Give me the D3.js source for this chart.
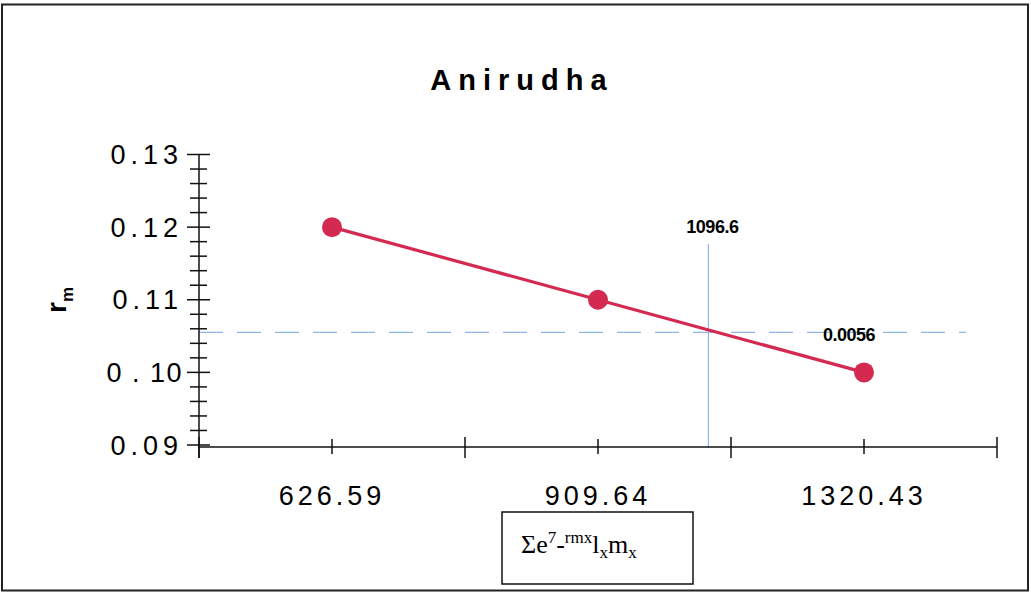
<!DOCTYPE html>
<html>
<head>
<meta charset="utf-8">
<script src="https://cdn.jsdelivr.net/npm/d3@7"></script>
<style>
	body { margin: 0; background: #fff; }
	svg { display: block; }
</style>
</head>
<body>
<svg id="chart" width="1031" height="593"></svg>
<script>
// data
var categories = ["626.59", "909.64", "1320.43"];
var rmValues = [0.12, 0.11, 0.10];
var yTickValues = [0.09, 0.10, 0.11, 0.12, 0.13];
var yTickLabels = ["0.09", "0 . 10", "0.11", "0.12", "0.13"];
// crossing of the line, x given as position in category units
var crossX = [1.415];
var crossY = [0.1055];
var crossLabels = ["1096.6", "0.0056"];

var svg = d3.select("#chart");
var lineColor = "#d42a52";
var guideColor = "#8fb8e8";

var plotLeft = 199, plotRight = 997, plotTop = 154.5, plotBottom = 445;

var x = d3.scaleBand()
	.domain(categories)
	.range([plotLeft, plotRight]);

// index scale for things that sit between categories
var xIdx = d3.scaleLinear()
	.domain([-0.5, categories.length - 0.5])
	.range([plotLeft, plotRight]);

var y = d3.scaleLinear()
	.domain([0.09, 0.13])
	.range([plotBottom, plotTop]);

// outer frame
svg.append("rect")
	.attr("x", 2).attr("y", 4.5)
	.attr("width", 1026).attr("height", 586)
	.attr("fill", "none")
	.attr("stroke", "#222")
	.attr("stroke-width", 2);

svg.append("text")
	.attr("x", 522).attr("y", 90)
	.attr("text-anchor", "middle")
	.style("font", "bold 29px 'Liberation Sans', Arial, sans-serif")
	.style("letter-spacing", "7px")
	.text("Anirudha");

// guide lines
svg.append("line")
	.attr("x1", plotLeft).attr("x2", 966)
	.attr("y1", y(crossY[0])).attr("y2", y(crossY[0]))
	.attr("stroke", guideColor)
	.attr("stroke-width", 1.2)
	.attr("stroke-dasharray", "24,14");

svg.append("line")
	.attr("x1", xIdx(crossX[0])).attr("x2", xIdx(crossX[0]))
	.attr("y1", 244).attr("y2", plotBottom + 2)
	.attr("stroke", guideColor)
	.attr("stroke-width", 1.2);

// y axis with minor ticks
var yAxis = svg.append("g").attr("class", "y-axis");
yAxis.append("line")
	.attr("x1", plotLeft).attr("x2", plotLeft)
	.attr("y1", plotTop).attr("y2", plotBottom + 13)
	.attr("stroke", "#111").attr("stroke-width", 1.5);

var minor = d3.range(0, 21).map(function(i) { return 0.09 + i * 0.002; });
yAxis.selectAll("line.tick")
	.data(minor)
	.enter()
	.append("line")
	.attr("class", "tick")
	.attr("x1", function(d, i) { return i % 5 === 0 ? plotLeft - 12 : plotLeft - 9; })
	.attr("x2", function(d, i) { return i % 5 === 0 ? plotLeft + 11 : plotLeft + 8; })
	.attr("y1", function(d) { return y(d); })
	.attr("y2", function(d) { return y(d); })
	.attr("stroke", "#111").attr("stroke-width", 1.5);

yAxis.selectAll("text")
	.data(yTickValues)
	.enter()
	.append("text")
	.attr("x", 183)
	.attr("y", function(d) { return y(d); })
	.attr("dy", "0.36em")
	.attr("text-anchor", "end")
	.style("font", "27px 'Liberation Sans', Arial, sans-serif")
	.style("letter-spacing", function(d, i) {
		// the spaced label is already wide
		return yTickLabels[i].indexOf(" ") > -1 ? "1.5px" : "5px";
	})
	.text(function(d, i) { return yTickLabels[i]; });

// x axis
var xAxis = svg.append("g").attr("class", "x-axis");
xAxis.append("line")
	.attr("x1", plotLeft).attr("x2", plotRight)
	.attr("y1", plotBottom + 2).attr("y2", plotBottom + 2)
	.attr("stroke", "#111").attr("stroke-width", 1.5);

var bounds = categories.map(function(c) { return x(c); }).concat([plotRight]);
xAxis.selectAll("line.major")
	.data(bounds)
	.enter()
	.append("line")
	.attr("class", "major")
	.attr("x1", function(d) { return d; }).attr("x2", function(d) { return d; })
	.attr("y1", plotBottom - 8).attr("y2", plotBottom + 13)
	.attr("stroke", "#111").attr("stroke-width", 1.5);

xAxis.selectAll("line.minor")
	.data(categories)
	.enter()
	.append("line")
	.attr("class", "minor")
	.attr("x1", function(d) { return x(d) + x.bandwidth() / 2; })
	.attr("x2", function(d) { return x(d) + x.bandwidth() / 2; })
	.attr("y1", plotBottom - 6).attr("y2", plotBottom + 9)
	.attr("stroke", "#111").attr("stroke-width", 1.5);

xAxis.selectAll("text")
	.data(categories)
	.enter()
	.append("text")
	.attr("x", function(d) { return x(d) + x.bandwidth() / 2; })
	.attr("y", 505)
	.attr("text-anchor", "middle")
	.style("font", "27px 'Liberation Sans', Arial, sans-serif")
	.style("letter-spacing", "4px")
	.text(function(d) { return d; });

// series
var pts = categories.map(function(c, i) {
	return [x(c) + x.bandwidth() / 2, y(rmValues[i])];
});

svg.append("path")
	.attr("d", d3.line()(pts))
	.attr("fill", "none")
	.attr("stroke", lineColor)
	.attr("stroke-width", 3.2);

svg.selectAll("circle.pt")
	.data(pts)
	.enter()
	.append("circle")
	.attr("class", "pt")
	.attr("cx", function(d) { return d[0]; })
	.attr("cy", function(d) { return d[1]; })
	.attr("r", 10)
	.attr("fill", lineColor);

// crossing labels
svg.append("text")
	.attr("x", xIdx(crossX[0]) + 4).attr("y", 233)
	.attr("text-anchor", "middle")
	.style("font", "bold 18px 'Liberation Sans Narrow', 'Liberation Sans', Arial, sans-serif")
	.style("letter-spacing", "-0.5px")
	.text(crossLabels[0]);

svg.append("text")
	.attr("x", 823).attr("y", y(crossY[0]) + 9)
	.style("font", "bold 18px 'Liberation Sans Narrow', 'Liberation Sans', Arial, sans-serif")
	.style("letter-spacing", "-0.5px")
	.text(crossLabels[1]);

// y axis title r_m
var yt = svg.append("text")
	.attr("transform", "translate(66,300) rotate(-90)")
	.attr("text-anchor", "middle")
	.style("font", "bold 28px 'Liberation Sans', Arial, sans-serif");
yt.append("tspan").text("r");
yt.append("tspan").attr("dy", 7).style("font-size", "17px").text("m");

// x axis title in a box
svg.append("rect")
	.attr("x", 502).attr("y", 512)
	.attr("width", 191).attr("height", 72)
	.attr("fill", "none")
	.attr("stroke", "#111")
	.attr("stroke-width", 1.5);

var xt = svg.append("text")
	.attr("x", 521).attr("y", 553)
	.style("font", "26px 'Liberation Serif', 'Times New Roman', serif");
xt.append("tspan").text("\u03A3e");
xt.append("tspan").attr("dy", -10).style("font-size", "17px").text("7");
xt.append("tspan").attr("dy", 10).text("-");
xt.append("tspan").attr("dy", -10).style("font-size", "17px").text("rmx");
xt.append("tspan").attr("dy", 10).text("l");
xt.append("tspan").attr("dy", 5).style("font-size", "17px").text("x");
xt.append("tspan").attr("dy", -5).text("m");
xt.append("tspan").attr("dy", 5).style("font-size", "17px").text("x");
</script>
</body>
</html>
